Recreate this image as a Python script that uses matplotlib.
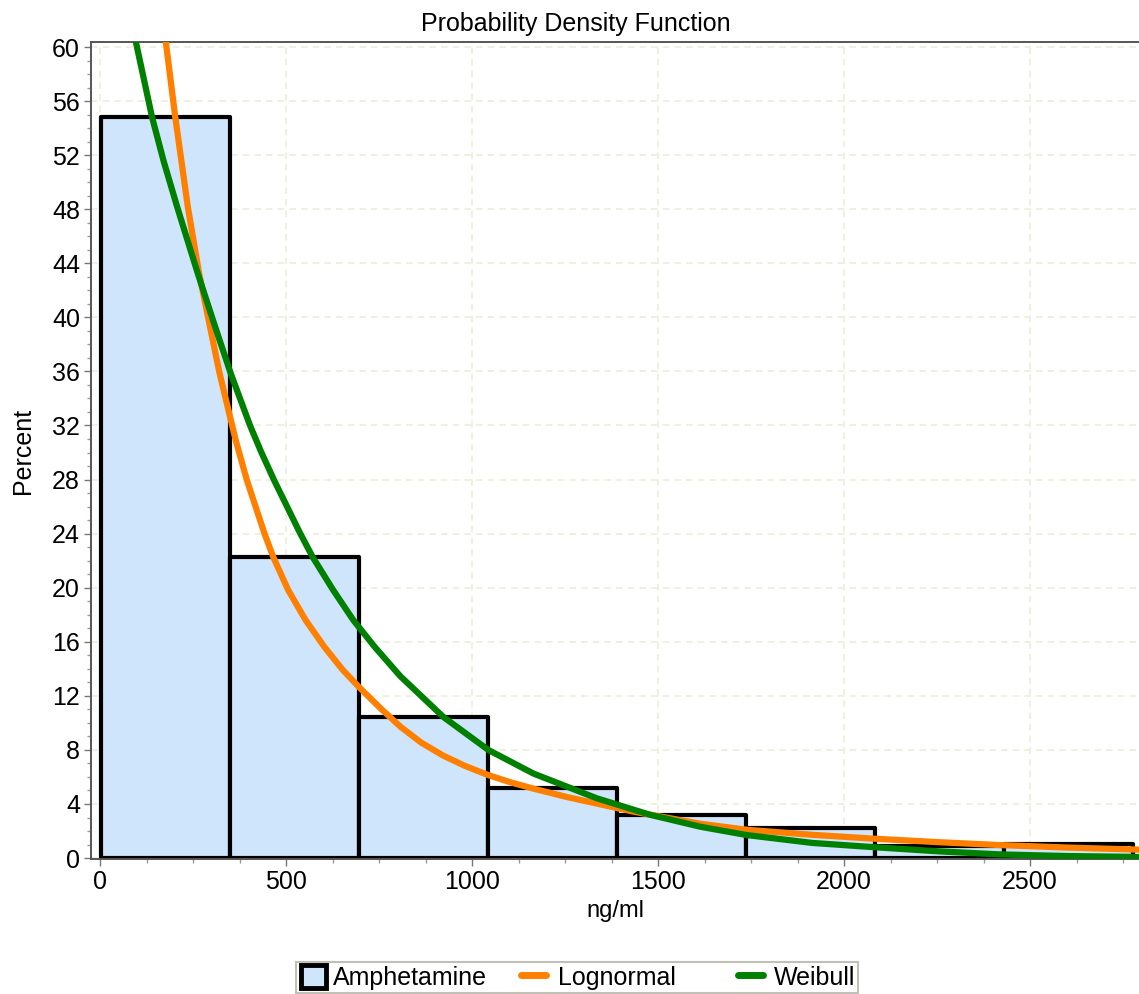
import matplotlib
matplotlib.use("Agg")
import matplotlib.pyplot as plt
from matplotlib.ticker import MultipleLocator
from matplotlib.patches import Patch, Rectangle
from matplotlib.lines import Line2D

plt.rcParams['font.family'] = ['Liberation Sans', 'DejaVu Sans']

# ---- data ----
bin_edges = [2, 349, 696, 1043, 1390, 1737, 2084, 2431, 2778]
bar_percent = [54.8, 22.3, 10.4, 5.2, 3.2, 2.2, 0.9, 1.05]

logn_x = [169.4, 176.3, 201.6, 235.5, 265.6, 293.0, 320.7, 364.0, 394.1, 441.1, 465.1,
          505.1, 551.9, 602.7, 652.2, 699.5, 752.7, 806.5, 862.9, 922.0, 981.2, 1043.0,
          1102.2, 1164.0, 1255.4, 1432.8, 1612.9, 1739.2, 1914.0, 2088.7, 2258.1, 2419.4,
          2596.8, 2795.7]
logn_y = [61.98, 60.36, 54.81, 48.15, 43.27, 39.57, 35.87, 30.92, 27.96, 24.04, 22.27,
          19.83, 17.61, 15.61, 13.91, 12.54, 11.10, 9.73, 8.54, 7.58, 6.81, 6.14,
          5.61, 5.14, 4.51, 3.44, 2.54, 2.09, 1.72, 1.42, 1.17, 0.96,
          0.78, 0.62]

weib_x = [83.3, 94.6, 139.0, 170.4, 206.7, 262.1, 305.6, 350.5, 402.2, 432.8, 467.2,
          537.1, 571.2, 626.3, 680.4, 738.2, 806.5, 922.8, 1043.8, 1164.8, 1335.2, 1478.5,
          1612.9, 1738.4, 1914.0, 2087.9, 2258.1, 2419.4, 2596.8, 2795.7]
weib_y = [62.0, 60.51, 54.83, 51.55, 48.17, 43.25, 39.57, 35.87, 32.03, 30.03, 27.96,
          24.04, 22.26, 19.82, 17.60, 15.61, 13.46, 10.43, 7.99, 6.25, 4.42, 3.20,
          2.32, 1.70, 1.12, 0.79, 0.49, 0.27, 0.15, 0.08]

title = "Probability Density Function"
x_label = "ng/ml"
y_label = "Percent"
series_names = ["Amphetamine", "Lognormal", "Weibull"]

# ---- style ----
bar_face = "#CFE5FC"
orange = "#FF8000"
green = "#008000"
grid_col = "#EEEEDC"
FS = 18

W, H = 1139, 994
fig = plt.figure(figsize=(W / 100, H / 100), dpi=100)
ax = fig.add_axes([91 / W, 1 - 859 / H, (W - 91) / W, (859 - 42) / H])

widths = [bin_edges[i + 1] - bin_edges[i] for i in range(len(bar_percent))]
ax.bar(bin_edges[:-1], bar_percent, width=widths, align='edge',
       facecolor=bar_face, edgecolor='black', linewidth=3.0, joinstyle='round', zorder=2)

ax.plot(logn_x, logn_y, color=orange, linewidth=4.5, solid_capstyle='butt',
        solid_joinstyle='round', zorder=3)
ax.plot(weib_x, weib_y, color=green, linewidth=4.5, solid_capstyle='butt',
        solid_joinstyle='round', zorder=4)

ax.set_xlim(-25, 2793)
ax.set_ylim(-0.07, 60.37)

ax.xaxis.set_major_locator(MultipleLocator(500))
ax.xaxis.set_minor_locator(MultipleLocator(125))
ax.yaxis.set_major_locator(MultipleLocator(4))
ax.yaxis.set_minor_locator(MultipleLocator(1))

ax.grid(True, which='major', color=grid_col, linestyle=(0, (4, 3)), linewidth=1.2, zorder=0)
ax.set_axisbelow(True)

for s in ['left', 'bottom', 'top']:
    ax.spines[s].set_color('#555555')
    ax.spines[s].set_linewidth(1.4)
ax.spines['right'].set_visible(False)

ax.tick_params(axis='both', which='major', labelsize=FS, length=5, width=1, color='#777777',
               direction='out', pad=3)
ax.tick_params(axis='both', which='minor', length=3, width=1, color='#999999', direction='out')
ax.tick_params(top=False, right=False)

ax.set_title(title, fontsize=FS, pad=8, x=(575.5 - 91) / (W - 91))
ax.set_xlabel(x_label, fontsize=17, labelpad=4)
ax.set_ylabel(y_label, fontsize=FS, labelpad=12)

# ---- legend: three equal-width columns inside one frame ----
handles = [
    Patch(facecolor=bar_face, edgecolor='black', linewidth=3.5),
    Line2D([0], [0], color=orange, linewidth=5, solid_capstyle='round'),
    Line2D([0], [0], color=green, linewidth=5, solid_capstyle='round'),
]
col_x = [301, 521, 738]
hlen = [1.0, 1.0, 1.0]
tpad = [0.28, 0.5, 0.45]
yc = 1 - 977.5 / H
for h, name, cx, hl, tp in zip(handles, series_names, col_x, hlen, tpad):
    fig.legend([h], [name], loc='center left', bbox_to_anchor=(cx / W, yc),
               frameon=False, fontsize=FS, handlelength=hl, handleheight=1.0,
               handletextpad=tp, borderpad=0, borderaxespad=0)
fig.add_artist(Rectangle((296 / W, 1 - 993 / H), 562 / W, 31 / H, transform=fig.transFigure,
                         fill=False, edgecolor='#C0C0B8', linewidth=1.5))

fig.savefig("out.png", dpi=100)
